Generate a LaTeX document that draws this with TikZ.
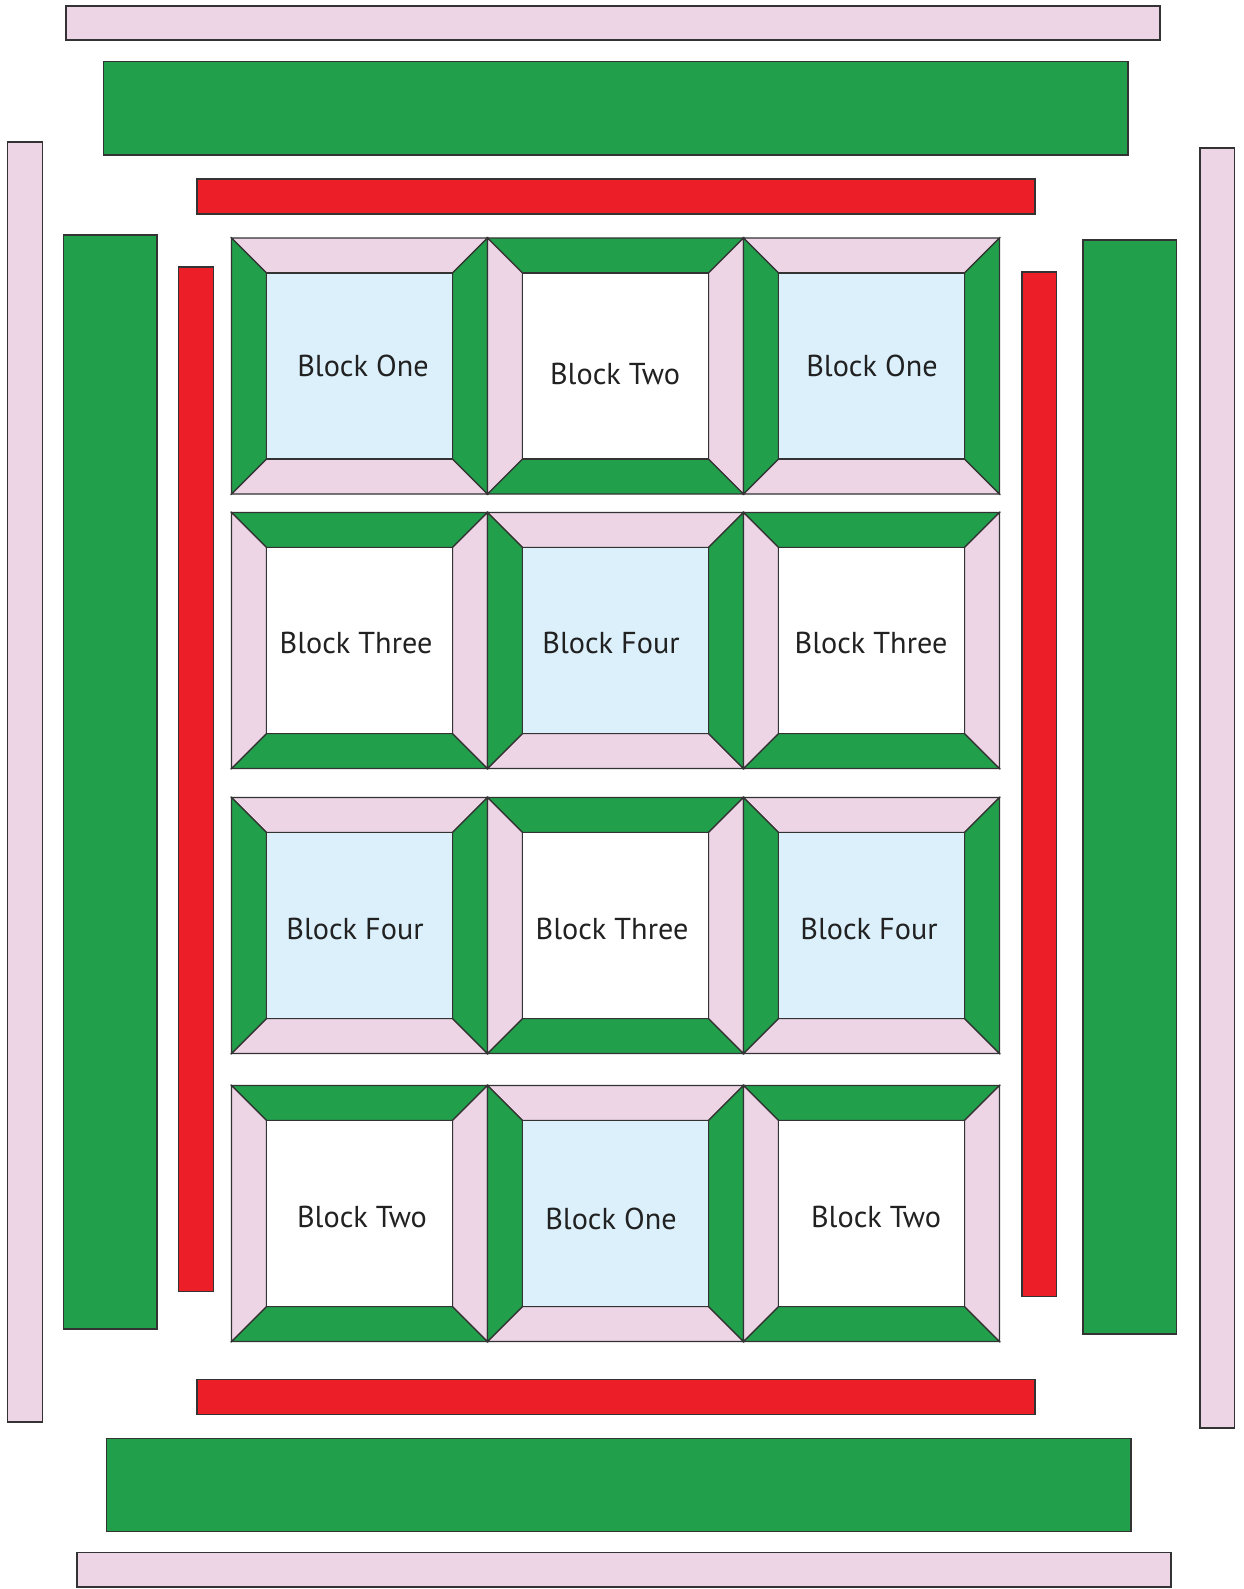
\documentclass[tikz,border=0pt]{standalone}
\usepackage{fontspec}
\setsansfont{PT Sans}
\usepackage{tikz}
\definecolor{quiltgreen}{HTML}{219F4A}
\definecolor{quiltpink}{HTML}{EDD5E6}
\definecolor{quiltred}{HTML}{EC1F28}
\definecolor{quiltblue}{HTML}{DBF0FB}
\definecolor{quiltline}{HTML}{333333}
\tikzset{
  piece/.style={draw=quiltline,line width=0.7pt,line join=miter},
  label/.style={font=\sffamily\fontsize{17.2}{17.2}\selectfont,text=black!87}
}
% #1,#2 top left corner, #3 sides, #4 top and bottom, #5 centre
\newcommand{\quiltblock}[5]{
  \begin{scope}[shift={(#1,#2)}]
    \path[piece,fill=#4] (0,0) -- (256,0) -- (221,35) -- (35,35) -- cycle;
    \path[piece,fill=#4] (0,256) -- (256,256) -- (221,221) -- (35,221) -- cycle;
    \path[piece,fill=#3] (0,0) -- (35,35) -- (35,221) -- (0,256) -- cycle;
    \path[piece,fill=#3] (256,0) -- (221,35) -- (221,221) -- (256,256) -- cycle;
    \path[piece,fill=#5] (35,35) rectangle (221,221);
  \end{scope}
}
\newcommand{\blockA}[2]{\quiltblock{#1}{#2}{quiltgreen}{quiltpink}{quiltblue}}
\newcommand{\blockB}[2]{\quiltblock{#1}{#2}{quiltpink}{quiltgreen}{white}}

\begin{document}
\begin{tikzpicture}[x=0.02cm,y=-0.02cm]
    \useasboundingbox (0,0) rectangle (1244,1589);

    % outer borders
    \path[piece,fill=quiltpink] (66,6) rectangle (1160,40);
    \path[piece,fill=quiltgreen] (103.5,61.5) rectangle (1128,155);
    \path[piece,fill=quiltred] (197,179) rectangle (1035,214);

    \path[piece,fill=quiltpink] (7.5,142) rectangle (42.5,1422);
    \path[piece,fill=quiltgreen] (63.5,235) rectangle (157,1329);
    \path[piece,fill=quiltred] (178.5,267) rectangle (213.5,1291.5);

    \path[piece,fill=quiltred] (1022,272) rectangle (1056.5,1296.5);
    \path[piece,fill=quiltgreen] (1083,240) rectangle (1176.5,1334);
    \path[piece,fill=quiltpink] (1200,148) rectangle (1234.5,1428);

    \path[piece,fill=quiltred] (197,1379.2) rectangle (1035,1414.2);
    \path[piece,fill=quiltgreen] (106.5,1438.5) rectangle (1131,1531.7);
    \path[piece,fill=quiltpink] (77,1552.6) rectangle (1171,1587);

    % blocks
    \blockA{231.5}{238}    \blockB{487.5}{238}    \blockA{743.5}{238}
    \blockB{231.5}{512.5}  \blockA{487.5}{512.5}  \blockB{743.5}{512.5}
    \blockA{231.5}{797.5}  \blockB{487.5}{797.5}  \blockA{743.5}{797.5}
    \blockB{231.5}{1085.5} \blockA{487.5}{1085.5} \blockB{743.5}{1085.5}

    \node[label] (11) at (363,366) {Block One};
    \node[label] (12) at (615,374) {Block Two};
    \node[label] (13) at (872,366) {Block One};
    \node[label] (21) at (356,643) {Block Three};
    \node[label] (22) at (611,643) {Block Four};
    \node[label] (23) at (871,643) {Block Three};
    \node[label] (31) at (355,929) {Block Four};
    \node[label] (32) at (612,929) {Block Three};
    \node[label] (33) at (869,929) {Block Four};
    \node[label] (41) at (362,1217) {Block Two};
    \node[label] (42) at (611,1219) {Block One};
    \node[label] (43) at (876,1217) {Block Two};
\end{tikzpicture}
\end{document}
